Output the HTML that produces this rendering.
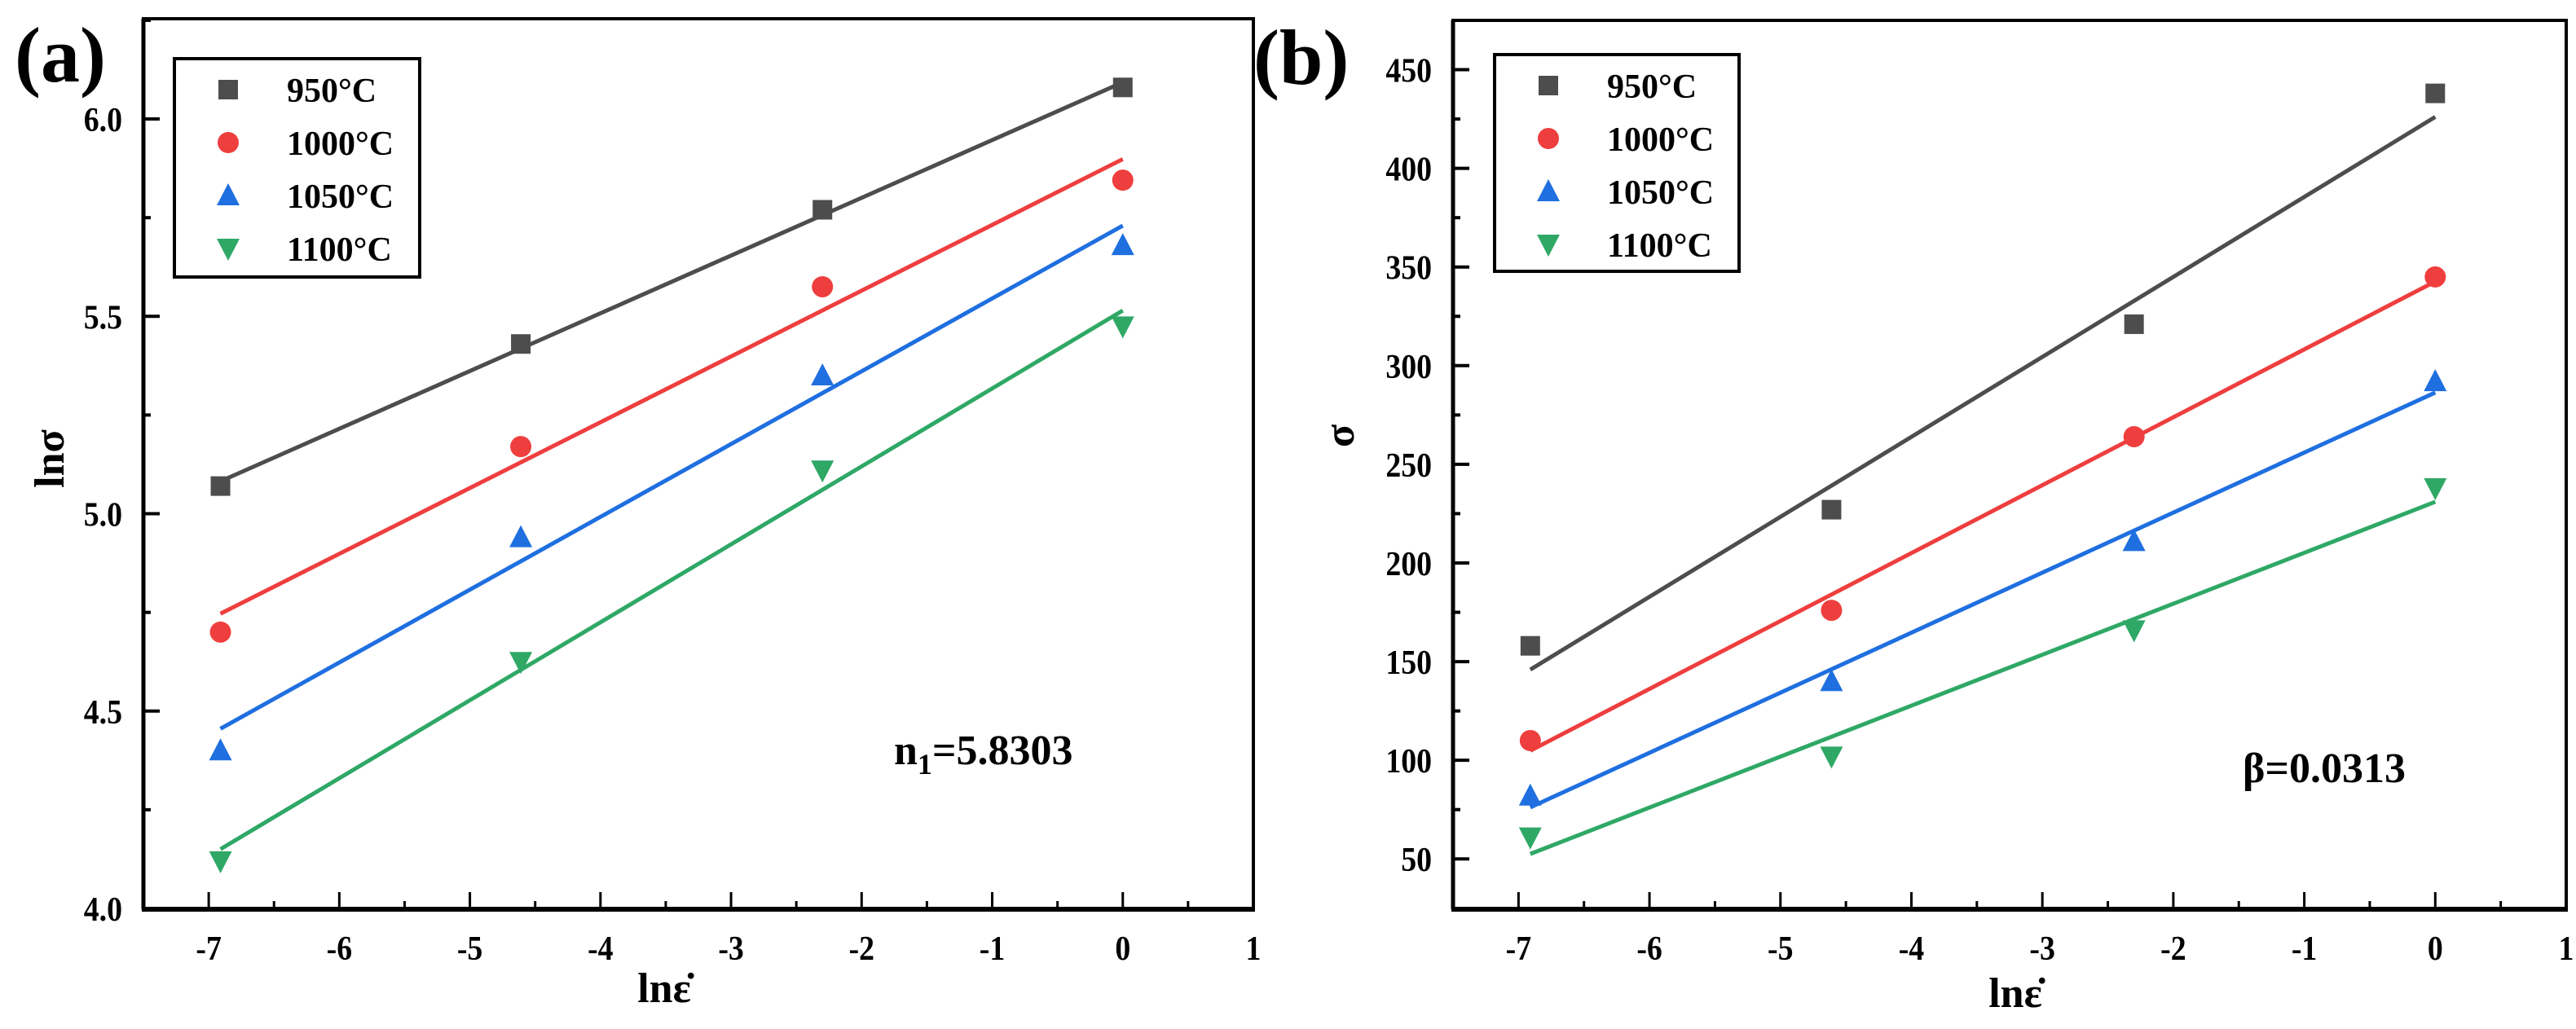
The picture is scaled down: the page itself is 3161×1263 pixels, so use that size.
<!DOCTYPE html>
<html><head><meta charset="utf-8">
<style>
html,body{margin:0;padding:0;background:#fff;}
svg{display:block;font-family:"Liberation Serif",serif;font-weight:bold;}
</style></head>
<body>
<svg id="fig" width="3161" height="1263" viewBox="0 0 3161 1263" xmlns="http://www.w3.org/2000/svg">
<rect width="3161" height="1263" fill="#fff"/>
</svg>
<script>
const xVals = [-6.91, -4.61, -2.30, 0];
const seriesNames = ["950°C", "1000°C", "1050°C", "1100°C"];
const lnSigma950 = [5.07, 5.43, 5.77, 6.08];
const lnSigma1000 = [4.70, 5.17, 5.575, 5.845];
const lnSigma1050 = [4.40, 4.94, 5.35, 5.68];
const lnSigma1100 = [4.12, 4.625, 5.11, 5.475];
const sigma950 = [158, 227, 321, 438];
const sigma1000 = [110, 176, 264, 345];
const sigma1050 = [82, 140, 211, 292];
const sigma1100 = [61, 102, 166, 238];
const xTicks = [-7, -6, -5, -4, -3, -2, -1, 0, 1];
const yTicksA = [4.0, 4.5, 5.0, 5.5, 6.0];
const yTicksB = [50, 100, 150, 200, 250, 300, 350, 400, 450];

const NS = "http://www.w3.org/2000/svg";
const svg = document.getElementById("fig");
const colors = ["#4d4d4d", "#ef3e3e", "#1f6fe0", "#2fa866"];
const shapes = ["square", "circle", "up", "down"];

function el(tag, attrs, parent) {
  const e = document.createElementNS(NS, tag);
  for (const k in attrs) e.setAttribute(k, attrs[k]);
  (parent || svg).appendChild(e);
  return e;
}
function marker(g, shape, cx, cy, color) {
  let m;
  if (shape === "square") m = el("rect", {x: cx - 12, y: cy - 12, width: 24, height: 24, fill: color}, g);
  else if (shape === "circle") m = el("circle", {cx: cx, cy: cy, r: 13, fill: color}, g);
  else if (shape === "up") m = el("polygon", {points: `${cx},${cy - 15} ${cx + 14},${cy + 12} ${cx - 14},${cy + 12}`, fill: color}, g);
  else m = el("polygon", {points: `${cx},${cy + 15} ${cx + 14},${cy - 12} ${cx - 14},${cy - 12}`, fill: color}, g);
  return m;
}
function regress(xs, ys) {
  const n = xs.length;
  const mx = xs.reduce((a, b) => a + b) / n, my = ys.reduce((a, b) => a + b) / n;
  let sxy = 0, sxx = 0;
  for (let i = 0; i < n; i++) { sxy += (xs[i] - mx) * (ys[i] - my); sxx += (xs[i] - mx) ** 2; }
  const b = sxy / sxx;
  return [b, my - b * mx];
}

function panel(cfg) {
  const {id, left, right, top, bottom, xmin, xmax, ymin, ymax, yTicks, yFmt, series, yMinor} = cfg;
  const g = el("g", {});
  
  
  const X = v => left + (v - xmin) / (xmax - xmin) * (right - left);
  const Y = v => bottom - (v - ymin) / (ymax - ymin) * (bottom - top);

  const frame = el("rect", {x: left, y: top, width: right - left, height: bottom - top, fill: "none", stroke: "#000", "stroke-width": 4}, g);
  
  
  el("line", {x1: left - 2, y1: bottom, x2: right + 2, y2: bottom, stroke: "#000", "stroke-width": 6}, g);
  el("line", {x1: left, y1: top, x2: left, y2: bottom, stroke: "#000", "stroke-width": 5}, g);

  xTicks.forEach((t, i) => {
    const x = X(t);
    el("line", {x1: x, y1: bottom, x2: x, y2: bottom - 21, stroke: "#000", "stroke-width": 3}, g);
    if (i < xTicks.length - 1) {
      const xm = X(t + 0.5);
      el("line", {x1: xm, y1: bottom, x2: xm, y2: bottom - 10, stroke: "#000", "stroke-width": 3}, g);
    }
    const tx = el("text", {x: 0, y: 0, "text-anchor": "middle", "font-size": 42, transform: `translate(${x},${bottom + 62}) scale(0.9,1)`}, g);
    tx.textContent = String(t);
    
    
  });
  yTicks.forEach((t, i) => {
    const y = Y(t);
    el("line", {x1: left, y1: y, x2: left + 20, y2: y, stroke: "#000", "stroke-width": 4}, g);
    const ty = el("text", {x: 0, y: 0, "text-anchor": "end", "font-size": 42, transform: `translate(${left - 26},${y + 15}) scale(0.9,1)`}, g);
    ty.textContent = yFmt(t);
    
    
  });
  yMinor.forEach(t => {
    const y = Y(t);
    if (y > top && y < bottom) el("line", {x1: left, y1: y, x2: left + 9, y2: y, stroke: "#000", "stroke-width": 4}, g);
  });

  series.forEach((ys, si) => {
    const sg = el("g", {}, g);
    
    
    const [b, a] = regress(xVals, ys);
    const x0 = xVals[0], x1 = xVals[xVals.length - 1];
    const ln = el("line", {x1: X(x0), y1: Y(a + b * x0), x2: X(x1), y2: Y(a + b * x1), stroke: colors[si], "stroke-width": 5}, sg);
    
    
    ys.forEach((v, i) => {
      const m = marker(sg, shapes[si], X(xVals[i]), Y(v), colors[si]);
      
      
    });
  });

  const lg = el("g", {}, g);
  
  
  const L = cfg.legend;
  el("rect", {x: L.x, y: L.y, width: L.w, height: L.h, fill: "#fff", stroke: "#000", "stroke-width": 4}, lg);
  seriesNames.forEach((n, i) => {
    const cy = L.y + 38 + i * 65;
    const e = el("g", {}, lg);
    
    
    marker(e, shapes[i], L.x + 66, cy, colors[i]);
    const t = el("text", {x: L.x + 138, y: cy + 15, "font-size": 42}, e);
    t.textContent = n;
  });
  return {X, Y};
}

panel({
  id: "panel-a", left: 176, right: 1538, top: 23, bottom: 1116,
  xmin: -7.5, xmax: 1, ymin: 4.0 - (1116 - 1115) / 484, ymax: 6.254,
  yTicks: yTicksA, yFmt: v => v.toFixed(1), yMinor: [4.25, 4.75, 5.25, 5.75, 6.25],
  series: [lnSigma950, lnSigma1000, lnSigma1050, lnSigma1100],
  legend: {x: 214, y: 72, w: 301, h: 268}
});
panel({
  id: "panel-b", left: 1783, right: 3149, top: 25, bottom: 1116,
  xmin: -7.5, xmax: 1, ymin: 24.5, ymax: 475,
  yTicks: yTicksB, yFmt: v => String(v), yMinor: [75, 125, 175, 225, 275, 325, 375, 425],
  series: [sigma950, sigma1000, sigma1050, sigma1100],
  legend: {x: 1834, y: 67, w: 300, h: 266}
});

function txt(x, y, s, size, name, extra) {
  const t = el("text", Object.assign({x: x, y: y, "font-size": size}, extra || {}));
  t.innerHTML = s;
  
  
  return t;
}
txt(18, 100, "(a)", 96, "panel-a-label");
txt(1538, 103, "(b)", 96, "panel-b-label");
txt(62, 563, "lnσ", 52, "y-axis-title-a", {"text-anchor": "middle", transform: "rotate(-90 62 563)", dy: "16"});
txt(1645, 535, "σ", 52, "y-axis-title-b", {"text-anchor": "middle", transform: "rotate(-90 1645 535)", dy: "16"});
txt(815, 1230, "ln&#949;&#775;", 52, "x-axis-title-a", {"text-anchor": "middle"});
txt(2473, 1236, "ln&#949;&#775;", 52, "x-axis-title-b", {"text-anchor": "middle"});
txt(1097, 938, "n<tspan font-size=\"36\" dy=\"12\">1</tspan><tspan dy=\"-12\">=5.8303</tspan>", 52, "n1-annotation");
txt(2752, 960, "β=0.0313", 52, "beta-annotation");
</script>
</body></html>
